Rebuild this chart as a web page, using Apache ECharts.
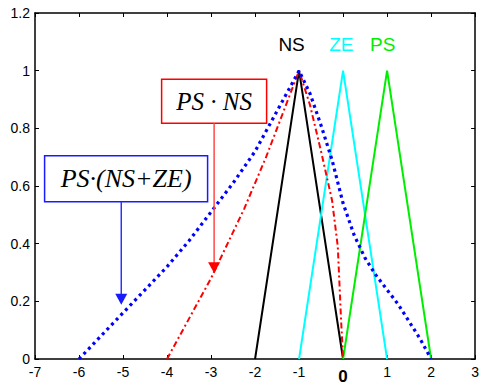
<!DOCTYPE html>
<html><head><meta charset="utf-8">
<script src="https://cdn.jsdelivr.net/npm/echarts@6/dist/echarts.min.js"></script>
<style>html,body{margin:0;padding:0;background:#fff}#c{width:482px;height:385px}</style>
</head><body><div id="c"></div>
<script>
const xRange = [-7, 3];
const yRange = [0, 1.2];
const nsData = [[-2,0],[-1,1],[0,0]];
const zeData = [[-1,0],[0,1],[1,0]];
const psData = [[0,0],[1,1],[2,0]];
const psNsData = [[-4,0],[-3.5,0.14],[-3.25,0.21],[-3,0.28],[-2.75,0.36],[-2.5,0.44],[-2.25,0.52],[-2,0.61],[-1.75,0.7],[-1.5,0.8],[-1.25,0.9],[-1,1],[-0.75,0.88],[-0.5,0.72],[-0.25,0.55],[-0.12,0.39],[-0.05,0.15],[0,0]];
const psNsZeData = [[-6,0],[-5.5,0.08],[-5,0.16],[-4.5,0.24],[-4,0.32],[-3.5,0.41],[-3,0.51],[-2.5,0.61],[-2,0.72],[-1.5,0.86],[-1.25,0.93],[-1,1],[-0.75,0.92],[-0.5,0.81],[-0.25,0.69],[0,0.54],[0.25,0.43],[0.5,0.35],[0.75,0.29],[1,0.24],[1.25,0.19],[1.5,0.13],[1.75,0.07],[2,0]];
const setLabels = [{text:'NS', x:-1.17, y:1.09, color:'#000000'},{text:'ZE', x:-0.04, y:1.09, color:'#00ffff'},{text:'PS', x:0.9, y:1.09, color:'#00ee00'}];
const boxes = [
  {text:'PS · NS', cx:-2.93, cy:0.894, w:105, h:44, tipX:-2.93, tipY:0.297, color:'#ff0000', line:'#ff4a4a', fs:25},
  {text:'PS·(NS+ZE)', cx:-4.93, cy:0.625, w:163, h:46, tipX:-5.04, tipY:0.188, color:'#1a1aff', line:'#3030ff', fs:26}
];

const chart = echarts.init(document.getElementById('c'), null, {renderer:'svg'});
const axisCommon = {
  type:'value', min:xRange[0], max:xRange[1], interval:1,
  axisLine:{show:true, onZero:false, lineStyle:{color:'#000', width:1.5}},
  axisTick:{show:true, inside:true, length:4, lineStyle:{color:'#000'}},
  splitLine:{show:false}
};
const yCommon = {
  type:'value', min:yRange[0], max:yRange[1], interval:0.2,
  axisLine:{show:true, onZero:false, lineStyle:{color:'#000', width:1.5}},
  axisTick:{show:true, inside:true, length:4, lineStyle:{color:'#000'}},
  splitLine:{show:false}
};
chart.setOption({
  animation:false,
  grid:{left:35, right:6, top:13, bottom:21, containLabel:false},
  xAxis:[
    Object.assign({}, axisCommon, {position:'bottom',
      axisLabel:{color:'#000', fontSize:14, fontFamily:'Liberation Sans', margin:6,
        formatter:v => v === 0 ? '{b|0}' : String(v),
        rich:{b:{fontWeight:'bold', fontSize:17, fontFamily:'Liberation Sans', color:'#000', padding:[3,0,0,0]}}}}),
    Object.assign({}, axisCommon, {position:'top', axisLabel:{show:false}})
  ],
  yAxis:[
    Object.assign({}, yCommon, {position:'left',
      axisLabel:{color:'#000', fontSize:14, fontFamily:'Liberation Sans', margin:5,
        formatter:v => String(Math.round(v*10)/10)}}),
    Object.assign({}, yCommon, {position:'right', axisLabel:{show:false}})
  ],
  series:[
    {type:'line', data:nsData, symbol:'none', lineStyle:{color:'#000', width:2}},
    {type:'line', data:zeData, symbol:'none', lineStyle:{color:'#00ffff', width:2}},
    {type:'line', data:psData, symbol:'none', lineStyle:{color:'#00ee00', width:2}},
    {type:'line', data:psNsData, symbol:'none', lineStyle:{color:'#ff0000', width:2, type:[6,3,2,3]}},
    {type:'line', data:psNsZeData, symbol:'none', lineStyle:{color:'#0000ff', width:3.2, type:[3,3.7], cap:'butt'}}
  ]
});

const g = [];
setLabels.forEach(l => {
  const p = chart.convertToPixel({gridIndex:0}, [l.x, l.y]);
  g.push({type:'text', x:p[0], y:p[1], style:{text:l.text, fill:l.color, font:'19px "Liberation Sans"', textAlign:'center', textVerticalAlign:'middle'}, z:10});
});
boxes.forEach(b => {
  const c = chart.convertToPixel({gridIndex:0}, [b.cx, b.cy]);
  const t = chart.convertToPixel({gridIndex:0}, [b.tipX, b.tipY]);
  const top = c[1] - b.h/2, bot = c[1] + b.h/2;
  g.push({type:'rect', shape:{x:c[0]-b.w/2, y:top, width:b.w, height:b.h}, style:{fill:'#fff', stroke:b.color, lineWidth:1.5}, z:20});
  g.push({type:'text', x:c[0], y:c[1], style:{text:b.text, fill:'#000', font:'italic '+b.fs+'px "Liberation Serif"', textAlign:'center', textVerticalAlign:'middle'}, z:21});
  g.push({type:'line', shape:{x1:t[0], y1:bot, x2:t[0], y2:t[1]-8}, style:{stroke:b.line, lineWidth:1.5}, z:20});
  g.push({type:'polygon', shape:{points:[[t[0]-6, t[1]-11],[t[0]+6, t[1]-11],[t[0], t[1]]]}, style:{fill:b.color}, z:20});
});
chart.setOption({graphic:g});
</script></body></html>
